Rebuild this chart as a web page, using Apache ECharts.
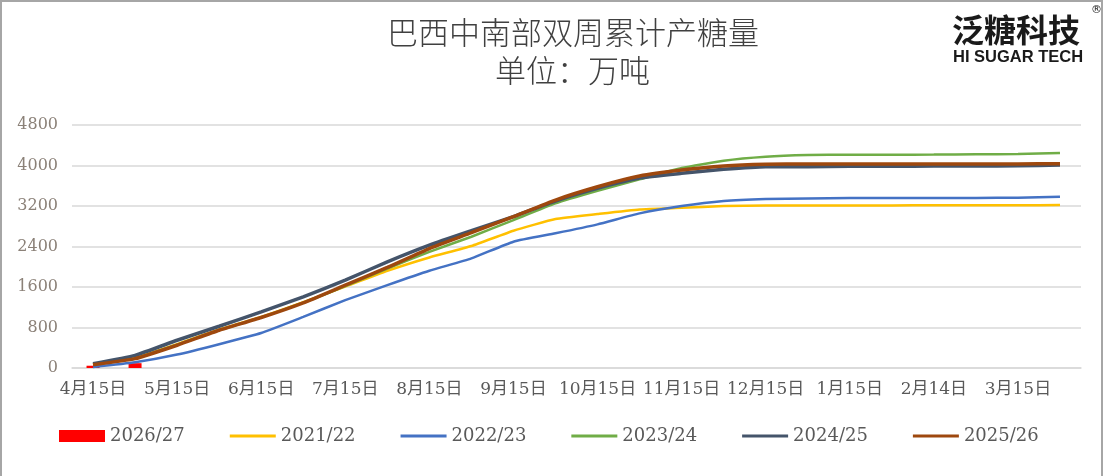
<!DOCTYPE html>
<html>
<head>
<meta charset="utf-8">
<script src="https://cdn.jsdelivr.net/npm/echarts@6/dist/echarts.min.js"></script>
<style>
  html, body { margin: 0; padding: 0; background: #fff; }
  #chart { width: 1108px; height: 476px; }
</style>
</head>
<body>
<div id="chart"></div>
<script>
// 双周日期
const dates = ['4月15日', '4月30日', '5月15日', '5月31日', '6月15日', '6月30日', '7月15日', '7月31日',
  '8月15日', '8月31日', '9月15日', '9月30日', '10月15日', '10月31日', '11月15日', '11月30日',
  '12月15日', '12月31日', '1月15日', '1月31日', '2月14日', '2月28日', '3月15日', '3月31日']

const s2627 = [45, 95, null, null, null, null, null, null, null, null, null, null,
  null, null, null, null, null, null, null, null, null, null, null, null]
const s2122 = [60, 205, 470, 760, 1010, 1300, 1610, 1920, 2184, 2410, 2712, 2942,
  3042, 3133, 3164, 3198, 3211, 3211, 3211, 3211, 3214, 3215, 3216, 3218]
const s2223 = [20, 113, 265, 470, 692, 1010, 1340, 1636, 1920, 2165, 2495, 2660,
  2837, 3054, 3198, 3297, 3337, 3350, 3356, 3356, 3358, 3360, 3365, 3383]
const s2324 = [70, 190, 460, 750, 1000, 1290, 1620, 1966, 2295, 2593, 2922, 3252,
  3500, 3726, 3950, 4095, 4174, 4207, 4213, 4214, 4215, 4220, 4225, 4246]
const s2425 = [85, 250, 548, 825, 1108, 1405, 1735, 2097, 2427, 2712, 2990, 3297,
  3548, 3752, 3845, 3924, 3976, 3976, 3983, 3985, 3988, 3990, 3995, 4010]
const s2526 = [65, 185, 450, 745, 997, 1286, 1636, 1986, 2360, 2672, 2990, 3318,
  3580, 3792, 3910, 3990, 4024, 4030, 4030, 4030, 4030, 4030, 4032, 4035]

const yTicks = [0, 800, 1600, 2400, 3200, 4000, 4800]

const serif = "'DejaVu Serif', 'Noto Sans CJK SC', serif"
const cjk = "'Noto Sans CJK SC', sans-serif"
const lineIcon = 'path://M0,0L46,0L46,3L0,3Z'

const chart = echarts.init(document.getElementById('chart'))

function line(name, data, color, width) {
  return {
    name, type: 'line', data,
    symbol: 'none', smooth: 0.15,
    lineStyle: { color, width },
    itemStyle: { color },
    emphasis: { disabled: true },
  }
}

chart.setOption({
  animation: false,
  title: [
    {
      text: '巴西中南部双周累计产糖量', left: 382, top: 12,
      textStyle: { fontFamily: cjk, fontSize: 31, fontWeight: 300, color: '#404040' },
    },
    {
      text: '单位：万吨', left: 490, top: 50,
      textStyle: { fontFamily: cjk, fontSize: 31, fontWeight: 300, color: '#404040' },
    },
  ],
  graphic: [
    { type: 'rect', shape: { x: 1, y: 1, width: 1101, height: 490 },
      style: { fill: 'none', stroke: '#a6a6a6', lineWidth: 2 }, silent: true },
    { type: 'text', left: 952, top: 14,
      style: { text: '泛糖科技', font: "bold 32px 'Noto Sans CJK SC'", fill: '#1a1a1a' } },
    { type: 'text', left: 1091, top: 5,
      style: { text: '®', font: "11px 'DejaVu Sans'", fill: '#1a1a1a' } },
    { type: 'text', left: 953, top: 49,
      style: { text: 'HI SUGAR TECH', font: "bold 16.5px 'Liberation Sans'", fill: '#1a1a1a' } },
  ],
  legend: {
    left: 54, top: 422,
    itemWidth: 46, itemHeight: 12, itemGap: 45,
    textStyle: { fontFamily: serif, fontSize: 18, color: '#595959' },
    data: [
      { name: '2026/27', icon: 'rect' },
      { name: '2021/22', icon: lineIcon },
      { name: '2022/23', icon: lineIcon },
      { name: '2023/24', icon: lineIcon },
      { name: '2024/25', icon: lineIcon },
      { name: '2025/26', icon: lineIcon },
    ],
  },
  grid: { left: 72, right: 27, top: 125, bottom: 108 },
  xAxis: {
    type: 'category',
    data: dates,
    boundaryGap: true,
    axisLine: { lineStyle: { color: '#d9d9d9', width: 1.5 } },
    axisTick: { alignWithLabel: true, interval: 0, length: 7, lineStyle: { color: '#d9d9d9', width: 1.5 } },
    axisLabel: { interval: 1, margin: 13, fontFamily: serif, fontSize: 17, color: '#595959' },
  },
  yAxis: {
    type: 'value',
    min: yTicks[0], max: yTicks[yTicks.length - 1], interval: 800,
    axisLine: { show: false },
    axisTick: { show: false },
    axisLabel: { margin: 14, fontFamily: serif, fontSize: 16, color: '#8b8178', formatter: v => String(v) },
    splitLine: { lineStyle: { color: '#d9d9d9', width: 1.5 } },
  },
  series: [
    {
      name: '2026/27', type: 'bar', data: s2627, barWidth: 13,
      itemStyle: { color: '#ff0000' },
    },
    line('2021/22', s2122, '#ffc000', 2.5),
    line('2022/23', s2223, '#4472c4', 2.5),
    line('2023/24', s2324, '#70ad47', 2.5),
    line('2024/25', s2425, '#44546a', 3.5),
    line('2025/26', s2526, '#9e480e', 3.5),
  ],
})

window.addEventListener('resize', () => chart.resize())
</script>
</body>
</html>
